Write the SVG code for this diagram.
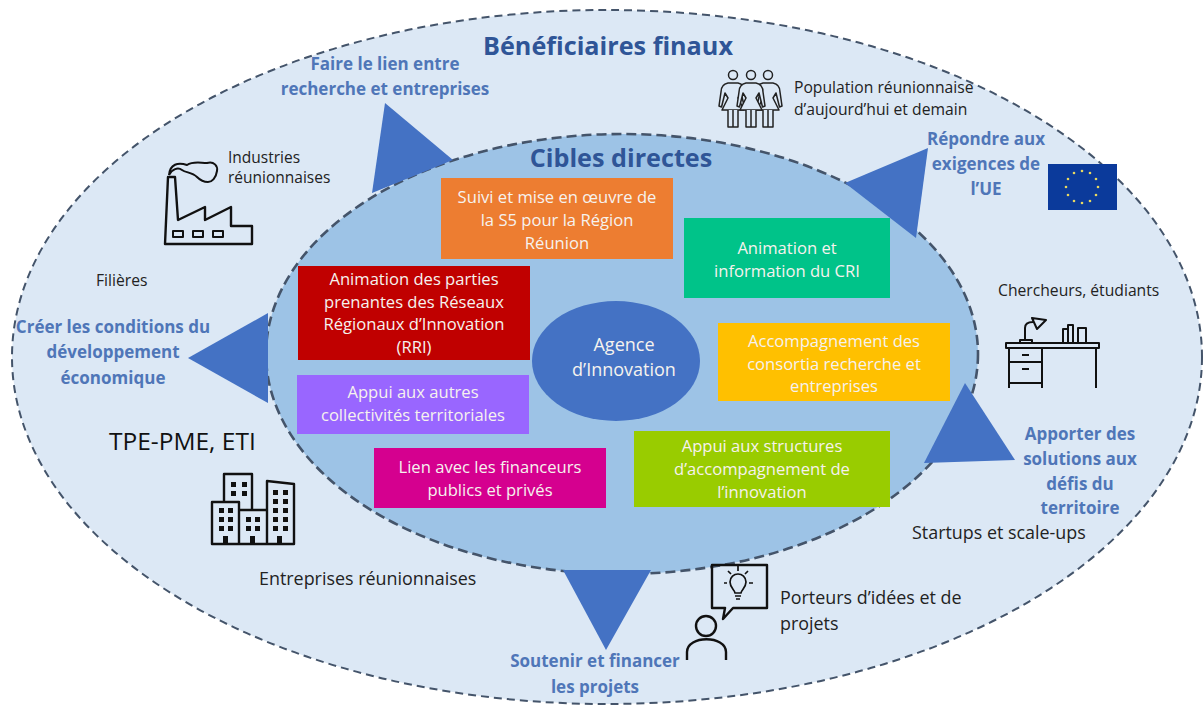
<svg xmlns="http://www.w3.org/2000/svg" width="1203" height="706" viewBox="0 0 1203 706">
<style>
text{font-family:"Open Sans","Noto Sans","Liberation Sans",sans-serif}
.d{fill:#222;font-size:15.7px}
.l{fill:#222;font-size:17.9px}
.g{fill:#4f76b8;font-size:17px;font-weight:700;text-anchor:middle}
.h{fill:#2f5597;font-size:25.2px;font-weight:700;text-anchor:middle}
.w{fill:#f6f2ee;font-size:16.6px;text-anchor:middle}
.i{fill:none;stroke:#111;stroke-width:2.4;stroke-linejoin:round}
.p{fill:#dce8f5;stroke:#222;stroke-width:1.5;stroke-linejoin:round}
.t{fill:#4472c4}
.o{fill:#dce8f5;stroke:#44546a;stroke-width:2;stroke-dasharray:8 5}
.n{fill:#9dc3e6;stroke:#44546a;stroke-width:2.6;stroke-dasharray:10 5}
</style>
<defs>
<g id="woman"><circle class="p" cx="0" cy="0" r="4.5"/><path class="p" d="M-5,8C-10,9 -12,13 -12,17L-14,31L-11.500,32L-8,18L-5,23L-11,35H11L5,23L8,18L11.500,32L14,31L12,17C12,13 10,9 5,8Z"/><path class="p" d="M-5,35V52H5V35M0,35V52"/></g>
</defs>
<rect width="1203" height="706" fill="#fff"/>
<g id="outer"><ellipse class="o" cx="607" cy="357" rx="595" ry="347"/>
<text class="h" x="608" y="55">Bénéficiaires finaux</text></g>
<g id="inner"><ellipse class="n" cx="622" cy="354" rx="356" ry="220"/>
<text class="h" x="621" y="167">Cibles directes</text></g>
<g id="connectors">
<polygon class="t" points="385,103 453,160 372,193"/>
<polygon class="t" points="928,148 845,183 916,238"/>
<polygon class="t" points="965,383 924,463 1015,460"/>
<polygon class="t" points="563,570 651,570 606,650"/>
<polygon class="t" points="188,358 268,313 268,403"/>
</g>
<g id="n-suivi"><rect x="441" y="178" width="232" height="81" fill="#ed7d31"/><text class="w" x="557" y="203">Suivi et mise en œuvre de</text><text class="w" x="557" y="226">la S5 pour la Région</text><text class="w" x="557" y="249">Réunion</text></g>
<g id="n-cri"><rect x="684" y="218" width="206" height="80" fill="#00c389"/><text class="w" x="787" y="254">Animation et</text><text class="w" x="787" y="277">information du CRI</text></g>
<g id="n-rri"><rect x="298" y="266" width="232" height="94" fill="#c00000"/><text class="w" x="414" y="285">Animation des parties</text><text class="w" x="414" y="308">prenantes des Réseaux</text><text class="w" x="414" y="330">Régionaux d’Innovation</text><text class="w" x="414" y="353">(RRI)</text></g>
<g id="n-agence"><ellipse cx="616" cy="361" rx="84" ry="60" fill="#4472c4"/><text class="w" x="624" y="351" style="font-size:18px">Agence</text><text class="w" x="624" y="376" style="font-size:18px">d’Innovation</text></g>
<g id="n-consortia"><rect x="718" y="323" width="232" height="78" fill="#ffc000"/><text class="w" x="834" y="347">Accompagnement des</text><text class="w" x="834" y="370">consortia recherche et</text><text class="w" x="834" y="392">entreprises</text></g>
<g id="n-appui"><rect x="297" y="375" width="232" height="59" fill="#9966ff"/><text class="w" x="413" y="398">Appui aux autres</text><text class="w" x="413" y="421">collectivités territoriales</text></g>
<g id="n-lien"><rect x="374" y="448" width="232" height="60" fill="#d5008f"/><text class="w" x="490" y="473">Lien avec les financeurs</text><text class="w" x="490" y="496">publics et privés</text></g>
<g id="n-structures"><rect x="634" y="431" width="256" height="76" fill="#99cc00"/><text class="w" x="762" y="452">Appui aux structures</text><text class="w" x="762" y="475">d’accompagnement de</text><text class="w" x="762" y="498">l’innovation</text></g>
<g id="labels-goals">
<text class="g" x="385" y="70">Faire le lien entre</text><text class="g" x="385" y="95">recherche et entreprises</text>
<text class="g" x="986" y="145">Répondre aux</text><text class="g" x="986" y="170">exigences de</text><text class="g" x="986" y="195">l’UE</text>
<text class="g" x="1080" y="440">Apporter des</text><text class="g" x="1080" y="465">solutions aux</text><text class="g" x="1080" y="490">défis du</text><text class="g" x="1080" y="514">territoire</text>
<text class="g" x="595" y="667">Soutenir et financer</text><text class="g" x="595" y="693">les projets</text>
<text class="g" x="113" y="333">Créer les conditions du</text><text class="g" x="113" y="358">développement</text><text class="g" x="113" y="384">économique</text>
</g>
<g id="n-industries"><text class="d" x="228" y="163" style="font-size:15.500px">Industries</text><text class="d" x="228" y="183" style="font-size:15.500px">réunionnaises</text>
<path class="i" d="M165,244L168,177H175L178,220L205,207V220L231,207V226H252V244Z"/><path class="i" d="M169,175C170,164 178,162 187,165C193,161 200,163 207,163C214,161 218,166 217,171C216,178 212,182 208,182C203,182 200,180 197,177C192,172 186,173 182,170C178,167 172,169 169,175" style="stroke-width:2"/><path class="i" d="M173,231h10v6h-10zM193,231h10v6h-10zM213,231h10v6h-10z" style="stroke-width:2"/></g>
<g id="n-population"><text class="d" x="794" y="93">Population réunionnaise</text><text class="d" x="794" y="115">d’aujourd’hui et demain</text>
<use href="#woman" x="733" y="75"/><use href="#woman" x="768" y="75"/><use href="#woman" x="751" y="75"/></g>
<g id="n-eu"><rect x="1048" y="164" width="69" height="46" fill="#0b3a9b"/><g fill="#e8d860"><circle cx="1082" cy="171" r="1.300"/><circle cx="1090" cy="173" r="1.300"/><circle cx="1096" cy="179" r="1.300"/><circle cx="1098" cy="187" r="1.300"/><circle cx="1096" cy="195" r="1.300"/><circle cx="1090" cy="201" r="1.300"/><circle cx="1082" cy="203" r="1.300"/><circle cx="1074" cy="201" r="1.300"/><circle cx="1068" cy="195" r="1.300"/><circle cx="1066" cy="187" r="1.300"/><circle cx="1068" cy="179" r="1.300"/><circle cx="1074" cy="173" r="1.300"/></g></g>
<g id="n-chercheurs"><text class="d" x="998" y="296">Chercheurs, étudiants</text>
<path class="i" style="stroke-width:2" d="M1006,343H1099V348H1006ZM1009,348V388M1042,348V388M1009,362H1042M1009,383H1042M1096,348V388M1022,355H1029M1022,369H1029"/><path class="i" style="stroke-width:2" d="M1020,343V340H1032V343M1025,340V328C1025,324 1028,322 1033,322M1032,318L1046,320L1037,329ZM1063,343V329H1068V343M1068,343V325H1073V343M1078,343V328H1086V343"/></g>
<g id="n-tpe"><text x="109" y="450" fill="#111" style="font-size:24.500px">TPE-PME, ETI</text>
<path class="i" d="M212,544V502H239V544ZM224,502V474H252V510M239,510H267V544H239M267,544V481L294,484V544Z"/>
<g fill="#111"><rect x="231" y="482" width="5" height="5"/><rect x="242" y="482" width="5" height="5"/><rect x="231" y="491" width="5" height="5"/><rect x="242" y="491" width="5" height="5"/><rect x="219" y="508" width="5" height="5"/><rect x="228" y="508" width="5" height="5"/><rect x="219" y="517" width="5" height="5"/><rect x="228" y="517" width="5" height="5"/><rect x="219" y="526" width="5" height="5"/><rect x="228" y="526" width="5" height="5"/><rect x="246" y="517" width="5" height="5"/><rect x="255" y="517" width="5" height="5"/><rect x="246" y="526" width="5" height="5"/><rect x="255" y="526" width="5" height="5"/><rect x="273" y="490" width="5" height="5"/><rect x="283" y="490" width="5" height="5"/><rect x="273" y="499" width="5" height="5"/><rect x="283" y="499" width="5" height="5"/><rect x="273" y="508" width="5" height="5"/><rect x="283" y="508" width="5" height="5"/><rect x="273" y="517" width="5" height="5"/><rect x="283" y="517" width="5" height="5"/><rect x="273" y="526" width="5" height="5"/><rect x="283" y="526" width="5" height="5"/><rect x="223" y="536" width="5" height="8"/><rect x="250" y="536" width="5" height="8"/><rect x="277" y="536" width="5" height="8"/></g></g>
<g id="n-entreprises"><text class="l" x="259" y="585">Entreprises réunionnaises</text></g>
<g id="n-filieres"><text class="d" x="96" y="286">Filières</text></g>
<g id="n-startups"><text class="l" x="912" y="539">Startups et scale-ups</text></g>
<g id="n-porteurs"><text class="l" x="780" y="604">Porteurs d’idées et de</text><text class="l" x="780" y="630">projets</text>
<path class="i" d="M712,565H767V608H733L723,619L725,608H712Z"/><circle class="i" cx="706" cy="626" r="10"/><path class="i" d="M687,660V652C687,635 726,635 726,652V660"/>
<path class="i" style="stroke-width:1.700" d="M735,593C735,590 730,588 730,582C730,577 734,574 738,574C742,574 746,577 746,582C746,588 741,590 741,593ZM735,596H741M736,599H740M738,566V571M728,571L731,574M748,571L745,574M724,583H727M749,583H753"/></g>
</svg>
